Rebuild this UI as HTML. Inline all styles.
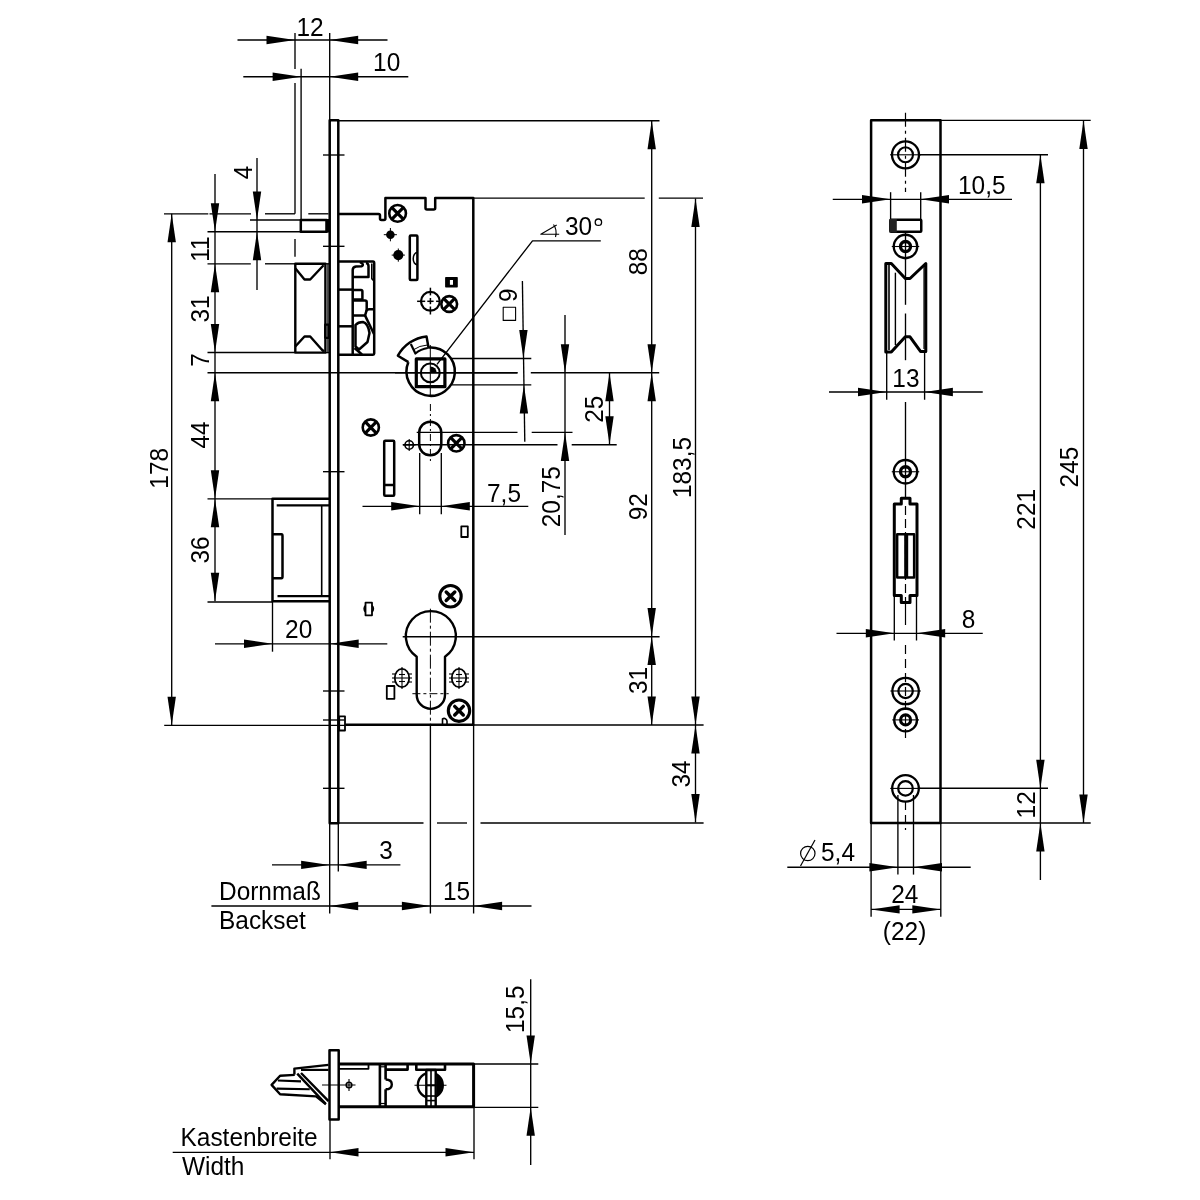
<!DOCTYPE html>
<html><head><meta charset="utf-8"><style>
html,body{margin:0;padding:0;background:#fff;width:1200px;height:1200px;overflow:hidden}
svg{display:block;will-change:transform}
</style></head><body>
<svg width="1200" height="1200" viewBox="0 0 1200 1200" font-family="Liberation Sans, sans-serif" stroke="#000" fill="#000" stroke-linecap="butt" stroke-linejoin="round">
<rect x="0" y="0" width="1200" height="1200" fill="#fff" stroke="none"/>
<line x1="237.5" y1="40" x2="387.5" y2="40" stroke-width="1.35"/>
<path d="M295,40 L266.5,35.8 L266.5,44.2 Z" stroke="none" fill="#000"/>
<path d="M329.7,40 L358.2,35.8 L358.2,44.2 Z" stroke="none" fill="#000"/>
<text transform="translate(310,35.5) scale(0.955,1)" x="0" y="0" font-size="25.6" text-anchor="middle" stroke="none">12</text>
<line x1="295" y1="33" x2="295" y2="69" stroke-width="1.35"/>
<line x1="243.3" y1="76.7" x2="408.3" y2="76.7" stroke-width="1.35"/>
<path d="M301.1,76.7 L272.6,72.5 L272.6,80.9 Z" stroke="none" fill="#000"/>
<path d="M329.7,76.7 L358.2,72.5 L358.2,80.9 Z" stroke="none" fill="#000"/>
<text transform="translate(386.7,71) scale(0.955,1)" x="0" y="0" font-size="25.6" text-anchor="middle" stroke="none">10</text>
<line x1="329.7" y1="33" x2="329.7" y2="120" stroke-width="1.35"/>
<line x1="301.1" y1="68.7" x2="301.1" y2="220" stroke-width="1.35"/>
<line x1="295" y1="83" x2="295" y2="213.8" stroke-width="1.35"/>
<rect x="329.7" y="120.3" width="8.6" height="703" stroke-width="2.5" fill="none"/>
<line x1="338.3" y1="120.7" x2="659.5" y2="120.7" stroke-width="1.35"/>
<line x1="323" y1="155" x2="344.5" y2="155" stroke-width="1.35"/>
<line x1="323" y1="246.3" x2="344.5" y2="246.3" stroke-width="1.35"/>
<line x1="323" y1="471.7" x2="344.5" y2="471.7" stroke-width="1.35"/>
<line x1="323" y1="691" x2="344.5" y2="691" stroke-width="1.35"/>
<line x1="323" y1="720" x2="344.5" y2="720" stroke-width="1.35"/>
<line x1="323" y1="788.3" x2="344.5" y2="788.3" stroke-width="1.35"/>
<rect x="339.2" y="716.3" width="5.8" height="14.2" stroke-width="1.8" fill="none"/>
<line x1="338.3" y1="823" x2="423.5" y2="823" stroke-width="1.35"/>
<line x1="437" y1="823" x2="467" y2="823" stroke-width="1.35"/>
<line x1="480.5" y1="823" x2="703.6" y2="823" stroke-width="1.35"/>
<line x1="329.7" y1="823" x2="329.7" y2="913.5" stroke-width="1.35"/>
<line x1="338.3" y1="823" x2="338.3" y2="871.5" stroke-width="1.35"/>
<rect x="300.8" y="220" width="25.9" height="11.7" stroke-width="2.5" fill="none"/>
<rect x="325.5" y="219" width="4" height="13.5" stroke="none" fill="#000"/>
<line x1="250" y1="220" x2="300.8" y2="220" stroke-width="1.35"/>
<line x1="207.5" y1="231.7" x2="300.8" y2="231.7" stroke-width="1.35"/>
<line x1="164" y1="213.8" x2="208.3" y2="213.8" stroke-width="1.35"/>
<line x1="209.5" y1="213.8" x2="251" y2="213.8" stroke-width="1.35"/>
<line x1="265" y1="213.8" x2="295" y2="213.8" stroke-width="1.35"/>
<line x1="308.3" y1="213.8" x2="328.5" y2="213.8" stroke-width="1.35"/>
<line x1="295" y1="239" x2="295" y2="256.7" stroke-width="1.35"/>
<line x1="207.5" y1="263.8" x2="250.8" y2="263.8" stroke-width="1.35"/>
<line x1="265" y1="263.8" x2="295" y2="263.8" stroke-width="1.35"/>
<path d="M295.3,263.8 L325.4,263.8 L325.4,352.6 L295.3,352.6 Z" stroke-width="2.4" fill="none" />
<line x1="327.9" y1="263.8" x2="327.9" y2="352.6" stroke-width="1.2"/>
<line x1="325.4" y1="263.8" x2="329.7" y2="263.8" stroke-width="1.4"/>
<line x1="325.4" y1="352.6" x2="329.7" y2="352.6" stroke-width="1.4"/>
<rect x="325.2" y="324.6" width="3.6" height="13.2" stroke-width="2.2" fill="none"/>
<path d="M295.3,268.3 L304.5,279.5 L310.2,279.5 L323.6,265.3" stroke-width="2.4" fill="none"/>
<path d="M295.3,346.5 L304.5,336.5 L310.2,336.5 L321.7,349.5 L324,351.5" stroke-width="2.4" fill="none"/>
<line x1="207.5" y1="352.5" x2="295" y2="352.5" stroke-width="1.35"/>
<line x1="207.5" y1="372.7" x2="517.5" y2="372.7" stroke-width="1.35"/>
<line x1="530.8" y1="372.7" x2="659.2" y2="372.7" stroke-width="1.35"/>
<line x1="215" y1="174" x2="215" y2="601.2" stroke-width="1.35"/>
<path d="M215,231.7 L210.8,203.2 L219.2,203.2 Z" stroke="none" fill="#000"/>
<path d="M215,263.8 L210.8,292.3 L219.2,292.3 Z" stroke="none" fill="#000"/>
<path d="M215,352.5 L210.8,324 L219.2,324 Z" stroke="none" fill="#000"/>
<path d="M215,372.7 L210.8,401.2 L219.2,401.2 Z" stroke="none" fill="#000"/>
<path d="M215,498.8 L210.8,470.3 L219.2,470.3 Z" stroke="none" fill="#000"/>
<path d="M215,498.8 L210.8,527.3 L219.2,527.3 Z" stroke="none" fill="#000"/>
<path d="M215,601.2 L210.8,572.7 L219.2,572.7 Z" stroke="none" fill="#000"/>
<text transform="translate(200,249) rotate(-90) scale(0.955,1)" x="0" y="9.09" font-size="25.6" text-anchor="middle" stroke="none">11</text>
<text transform="translate(200,309) rotate(-90) scale(0.955,1)" x="0" y="9.09" font-size="25.6" text-anchor="middle" stroke="none">31</text>
<text transform="translate(200,360) rotate(-90) scale(0.955,1)" x="0" y="9.09" font-size="25.6" text-anchor="middle" stroke="none">7</text>
<text transform="translate(200,435) rotate(-90) scale(0.955,1)" x="0" y="9.09" font-size="25.6" text-anchor="middle" stroke="none">44</text>
<text transform="translate(200,550) rotate(-90) scale(0.955,1)" x="0" y="9.09" font-size="25.6" text-anchor="middle" stroke="none">36</text>
<line x1="257" y1="158" x2="257" y2="290" stroke-width="1.35"/>
<path d="M257,220 L252.8,191.5 L261.2,191.5 Z" stroke="none" fill="#000"/>
<path d="M257,231.7 L252.8,260.2 L261.2,260.2 Z" stroke="none" fill="#000"/>
<text transform="translate(242.5,172.5) rotate(-90) scale(0.955,1)" x="0" y="9.09" font-size="25.6" text-anchor="middle" stroke="none">4</text>
<line x1="171.7" y1="213.8" x2="171.7" y2="725.3" stroke-width="1.35"/>
<path d="M171.7,213.8 L167.5,242.3 L175.9,242.3 Z" stroke="none" fill="#000"/>
<path d="M171.7,725.3 L167.5,696.8 L175.9,696.8 Z" stroke="none" fill="#000"/>
<text transform="translate(159.2,468.3) rotate(-90) scale(0.955,1)" x="0" y="9.09" font-size="25.6" text-anchor="middle" stroke="none">178</text>
<line x1="164.2" y1="725.3" x2="345.3" y2="725.3" stroke-width="1.35"/>
<line x1="207.5" y1="498.8" x2="272.5" y2="498.8" stroke-width="1.35"/>
<line x1="207.5" y1="602" x2="272.5" y2="602" stroke-width="1.35"/>
<path d="M329.7,498.8 L272.5,498.8 L272.5,601.2 L329.7,601.2" stroke-width="2.5" fill="none" />
<line x1="276.7" y1="505.3" x2="329.2" y2="505.3" stroke-width="2.25"/>
<line x1="277.5" y1="596.2" x2="329.2" y2="596.2" stroke-width="2.25"/>
<line x1="321.7" y1="505.3" x2="321.7" y2="596.2" stroke-width="1.6"/>
<path d="M272.5,534.2 L281.5,534.2 Q282.5,534.2 282.5,536 L282.5,576.5 Q282.5,578.3 281.5,578.3 L272.5,578.3" stroke-width="2.5" fill="none" />
<path d="M338.3,261.6 L373,261.6 Q374.2,261.6 374.2,263 L374.2,353.5 Q374.2,354.7 373,354.7 L338.3,354.7" stroke-width="2.5" fill="none" />
<line x1="338.3" y1="289.6" x2="352.6" y2="289.6" stroke-width="2.5"/>
<line x1="338.3" y1="326.3" x2="352.6" y2="326.3" stroke-width="2.5"/>
<path d="M352.7,354 L352.7,270 Q352.7,267 356,266.5 L361.5,266.3 Q363.5,265.5 362.5,263.8 L360,262" stroke-width="2.5" fill="none" />
<path d="M352.7,277 L368.5,277 L368.5,266 Q368.5,263.5 366,263" stroke-width="2.5" fill="none" />
<path d="M371.8,263.5 L371.8,278.6 L373.5,280.5" stroke-width="1.6" fill="none" />
<path d="M352.7,290 L361,290 Q362.4,290 362.4,291.5 L362.4,299.6 L352.7,299.6" stroke-width="2.5" fill="none" />
<path d="M352.7,300.5 L365,300.5 Q366.7,300.5 366.7,302 L366.7,309.5 Q366,313 365,315.4 L352.7,315.4" stroke-width="2.5" fill="none" />
<path d="M366.5,311 Q367,309.5 369,309.3 L374,309.2" stroke-width="2.5" fill="none" />
<path d="M365,315.4 L374,334" stroke-width="2.5" fill="none" />
<path d="M355.5,325 Q358,322 363,322 Q368,323 369.5,333 L367.5,342 L359,349.5 L355.5,346.5 Z" stroke-width="2.5" fill="none" />
<path d="M354.5,348 L362,354.5" stroke-width="2.5" fill="none" />
<path d="M338.3,214 L378.5,214 Q380,214 380,215.5 L380,218.5 Q380,220 381.5,220 L384,220 Q385.4,220 385.4,218.5 L385.4,198.1 L425.5,198.1 L425.5,208 Q425.5,209.5 427,209.5 L433.7,209.5 Q435.2,209.5 435.2,208 L435.2,198.1 L473.3,198.1 L473.3,724.7 L345.3,724.7" stroke-width="2.5" fill="none" />
<line x1="473.3" y1="198.1" x2="644.7" y2="198.1" stroke-width="1.35"/>
<line x1="658.8" y1="198.1" x2="703" y2="198.1" stroke-width="1.35"/>
<circle cx="397.6" cy="213.4" r="8.35" stroke-width="2.6" fill="none"/>
<path d="M392.42,208.22 L402.78,218.58 M392.42,218.58 L402.78,208.22" stroke-width="3.2" stroke-linecap="round" fill="none"/>
<circle cx="390.4" cy="234.7" r="4.3" stroke-width="0" fill="#000"/>
<line x1="383.8" y1="234.7" x2="396.9" y2="234.7" stroke-width="1.0"/>
<line x1="390.4" y1="228" x2="390.4" y2="241.3" stroke-width="1.0"/>
<circle cx="398.3" cy="255.1" r="5.1" stroke-width="0" fill="#000"/>
<line x1="391.7" y1="255.1" x2="404.9" y2="255.1" stroke-width="1.0"/>
<line x1="398.3" y1="248.5" x2="398.3" y2="261.7" stroke-width="1.0"/>
<rect x="409.8" y="235.5" width="7.6" height="44.4" rx="1" stroke-width="2.5" fill="none"/>
<path d="M417.2,252.6 A4,6.1 0 0 0 417.2,264.8" stroke-width="1.5" fill="none" />
<rect x="445.1" y="277" width="12.7" height="10.5" rx="0.8" stroke="none" fill="#000"/>
<rect x="449.9" y="280" width="3.1" height="4.8" stroke="none" fill="#fff"/>
<circle cx="430.4" cy="301.3" r="9.4" stroke-width="2.2" fill="none"/>
<line x1="417.1" y1="301.3" x2="425.2" y2="301.3" stroke-width="1.5"/>
<line x1="427.3" y1="301.3" x2="433.6" y2="301.3" stroke-width="1.5"/>
<line x1="436.1" y1="301.3" x2="439.8" y2="301.3" stroke-width="1.5"/>
<line x1="430.4" y1="287.7" x2="430.4" y2="295.4" stroke-width="1.5"/>
<line x1="430.4" y1="298" x2="430.4" y2="304.2" stroke-width="1.5"/>
<line x1="430.4" y1="306.5" x2="430.4" y2="314.5" stroke-width="1.5"/>
<circle cx="449.2" cy="304" r="7.9" stroke-width="2.6" fill="none"/>
<path d="M444.3,299.1 L454.1,308.9 M444.3,308.9 L454.1,299.1" stroke-width="3.2" stroke-linecap="round" fill="none"/>
<path d="M408.4,362.1 L397.9,355.7 A36.7,36.7 0 0 1 426.5,336.4 L428.5,347.5 A24.2,24.2 0 1 1 408.4,362.1" stroke-width="2.5" fill="none" />
<path d="M410.8,344 L415.4,353.5 A25,25 0 0 1 427.8,348" stroke-width="2.2" fill="none" />
<path d="M413,350 A28,28 0 0 1 427.5,345" stroke-width="1.0" fill="none" />
<rect x="416.3" y="358.9" width="28.6" height="27.8" stroke-width="3.2" fill="none"/>
<circle cx="430.3" cy="372.9" r="9.4" stroke-width="2.0" fill="none"/>
<path d="M430.3,372.9 L430.3,366.4 A6.5,6.5 0 0 1 436.8,372.9 Z" stroke-width="0" fill="#000" stroke="none"/>
<line x1="430.3" y1="345" x2="430.3" y2="397" stroke-width="1.0"/>
<line x1="395" y1="372.7" x2="517.5" y2="372.7" stroke-width="1.35"/>
<path d="M437,364.4 L532.5,240.8 L600.8,240.8" stroke-width="1.35" fill="none"/>
<text transform="translate(565,235.2) scale(0.955,1)" x="0" y="0" font-size="25.6" text-anchor="start" stroke="none">30</text>
<circle cx="598.4" cy="222.2" r="3.2" stroke-width="1.3" fill="none"/>
<path d="M556.7,225 L540.8,234.2 L559.2,234.2" stroke-width="1.1" fill="none"/>
<path d="M553.5,224.5 Q557.5,230 555.5,237" stroke-width="1.1" fill="none" />
<line x1="451.9" y1="358.5" x2="531.3" y2="358.5" stroke-width="1.35"/>
<line x1="451.9" y1="384.9" x2="531.3" y2="384.9" stroke-width="1.35"/>
<line x1="522.4" y1="281" x2="524.8" y2="441.7" stroke-width="1.35"/>
<path d="M523.4,358.5 L519.2,330 L527.6,330 Z" stroke="none" fill="#000"/>
<path d="M523.9,384.9 L519.7,413.4 L528.1,413.4 Z" stroke="none" fill="#000"/>
<text transform="translate(508,295.3) rotate(-90) scale(0.955,1)" x="0" y="9.09" font-size="25.6" text-anchor="middle" stroke="none">9</text>
<rect x="503.2" y="307.2" width="12.4" height="13.2" stroke-width="1.1" fill="none"/>
<rect x="419.2" y="421.7" width="22.1" height="33.6" rx="11" ry="11" stroke-width="2.5" fill="none"/>
<line x1="430.4" y1="404" x2="430.4" y2="461" stroke-width="1.0" stroke-dasharray="7,3,2,3"/>
<line x1="416.7" y1="432.4" x2="517.5" y2="432.4" stroke-width="1.35"/>
<line x1="531.7" y1="432.4" x2="572.5" y2="432.4" stroke-width="1.35"/>
<line x1="402.7" y1="444.7" x2="557.5" y2="444.7" stroke-width="1.35"/>
<line x1="571.7" y1="444.7" x2="616.7" y2="444.7" stroke-width="1.35"/>
<circle cx="409.2" cy="445" r="4.2" stroke-width="1.6" fill="none"/>
<line x1="403" y1="445" x2="415.5" y2="445" stroke-width="1.1"/>
<line x1="409.2" y1="439" x2="409.2" y2="451" stroke-width="1.1"/>
<circle cx="456.3" cy="443.3" r="8.2" stroke-width="2.6" fill="none"/>
<path d="M451.22,438.22 L461.38,448.38 M451.22,448.38 L461.38,438.22" stroke-width="3.2" stroke-linecap="round" fill="none"/>
<circle cx="370.8" cy="427.5" r="8.1" stroke-width="2.6" fill="none"/>
<path d="M365.78,422.48 L375.82,432.52 M365.78,432.52 L375.82,422.48" stroke-width="3.2" stroke-linecap="round" fill="none"/>
<rect x="384.2" y="440.8" width="10" height="55" rx="1" stroke-width="2.5" fill="none"/>
<line x1="384.2" y1="485" x2="394.2" y2="485" stroke-width="2.5"/>
<line x1="419.7" y1="453" x2="419.7" y2="514.2" stroke-width="1.35"/>
<line x1="441.3" y1="453" x2="441.3" y2="514.2" stroke-width="1.35"/>
<line x1="362.5" y1="506.3" x2="528.3" y2="506.3" stroke-width="1.35"/>
<path d="M419.7,506.3 L391.2,502.1 L391.2,510.5 Z" stroke="none" fill="#000"/>
<path d="M441.3,506.3 L469.8,502.1 L469.8,510.5 Z" stroke="none" fill="#000"/>
<text transform="translate(487,501.7) scale(0.955,1)" x="0" y="0" font-size="25.6" text-anchor="start" stroke="none">7,5</text>
<rect x="461.3" y="526.3" width="6.5" height="10.7" stroke-width="1.8" fill="none"/>
<circle cx="450.5" cy="596.25" r="10.7" stroke-width="3.1" fill="none"/>
<path d="M446.2,591.95 L454.8,600.55 M446.2,600.55 L454.8,591.95" stroke-width="3.4" stroke-linecap="round" fill="none"/>
<rect x="365.5" y="602.7" width="6.5" height="12.6" stroke-width="1.8" fill="none"/>
<path d="M365.5,605.5 A4.5,4.5 0 0 0 365.5,612" stroke-width="1.6" fill="none" />
<path d="M372,605.5 A4.5,4.5 0 0 1 372,612" stroke-width="1.6" fill="none" />
<path d="M416.7,656.7 A25,25 0 1 1 445,656.7 L445,694.7 A14.15,14.15 0 0 1 416.7,694.7 Z" stroke-width="2.4" fill="none" />
<line x1="402.7" y1="636.7" x2="659.6" y2="636.7" stroke-width="1.35"/>
<line x1="430.4" y1="608.7" x2="430.4" y2="724" stroke-width="1.0" stroke-dasharray="14,3,3,3"/>
<line x1="430.4" y1="724" x2="430.4" y2="913.5" stroke-width="1.35"/>
<line x1="412.4" y1="693.7" x2="448.7" y2="693.7" stroke-width="1.0" stroke-dasharray="8,3,3,3"/>
<ellipse cx="402" cy="678" rx="7.2" ry="9.2" stroke-width="1.8" fill="none"/>
<line x1="392" y1="678" x2="412" y2="678" stroke-width="1.1"/>
<line x1="402" y1="667" x2="402" y2="689" stroke-width="1.1"/>
<line x1="399" y1="674.5" x2="405" y2="674.5" stroke-width="1.1"/>
<line x1="399" y1="681.5" x2="405" y2="681.5" stroke-width="1.1"/>
<line x1="392" y1="674" x2="395" y2="674" stroke-width="1.1"/>
<line x1="392" y1="682" x2="395" y2="682" stroke-width="1.1"/>
<line x1="409" y1="674" x2="412" y2="674" stroke-width="1.1"/>
<line x1="409" y1="682" x2="412" y2="682" stroke-width="1.1"/>
<ellipse cx="459" cy="678" rx="7.2" ry="9.2" stroke-width="1.8" fill="none"/>
<line x1="449" y1="678" x2="469" y2="678" stroke-width="1.1"/>
<line x1="459" y1="667" x2="459" y2="689" stroke-width="1.1"/>
<line x1="456" y1="674.5" x2="462" y2="674.5" stroke-width="1.1"/>
<line x1="456" y1="681.5" x2="462" y2="681.5" stroke-width="1.1"/>
<line x1="449" y1="674" x2="452" y2="674" stroke-width="1.1"/>
<line x1="449" y1="682" x2="452" y2="682" stroke-width="1.1"/>
<line x1="466" y1="674" x2="469" y2="674" stroke-width="1.1"/>
<line x1="466" y1="682" x2="469" y2="682" stroke-width="1.1"/>
<rect x="386.8" y="686" width="7.6" height="12.8" stroke-width="1.8" fill="none"/>
<circle cx="459" cy="710.7" r="10.7" stroke-width="3.1" fill="none"/>
<path d="M454.7,706.4 L463.3,715 M454.7,715 L463.3,706.4" stroke-width="3.4" stroke-linecap="round" fill="none"/>
<path d="M442.5,724 L442.5,719 A2.8,2.8 0 0 1 447,721 L447,724" stroke-width="1.6" fill="none" />
<line x1="215" y1="643.8" x2="387.3" y2="643.8" stroke-width="1.35"/>
<path d="M272.5,643.8 L244,639.6 L244,648 Z" stroke="none" fill="#000"/>
<path d="M330.2,643.8 L358.7,639.6 L358.7,648 Z" stroke="none" fill="#000"/>
<line x1="272.5" y1="601" x2="272.5" y2="651.7" stroke-width="1.35"/>
<text transform="translate(298.7,637.5) scale(0.955,1)" x="0" y="0" font-size="25.6" text-anchor="middle" stroke="none">20</text>
<line x1="651.7" y1="120.7" x2="651.7" y2="725" stroke-width="1.35"/>
<path d="M651.7,120.7 L647.5,149.2 L655.9,149.2 Z" stroke="none" fill="#000"/>
<path d="M651.7,372.7 L647.5,344.2 L655.9,344.2 Z" stroke="none" fill="#000"/>
<path d="M651.7,372.7 L647.5,401.2 L655.9,401.2 Z" stroke="none" fill="#000"/>
<path d="M651.7,636.6 L647.5,608.1 L655.9,608.1 Z" stroke="none" fill="#000"/>
<path d="M651.7,636.6 L647.5,665.1 L655.9,665.1 Z" stroke="none" fill="#000"/>
<path d="M651.7,725 L647.5,696.5 L655.9,696.5 Z" stroke="none" fill="#000"/>
<text transform="translate(637.5,261.7) rotate(-90) scale(0.955,1)" x="0" y="9.09" font-size="25.6" text-anchor="middle" stroke="none">88</text>
<text transform="translate(637.5,506.7) rotate(-90) scale(0.955,1)" x="0" y="9.09" font-size="25.6" text-anchor="middle" stroke="none">92</text>
<text transform="translate(637.5,680.5) rotate(-90) scale(0.955,1)" x="0" y="9.09" font-size="25.6" text-anchor="middle" stroke="none">31</text>
<line x1="695.5" y1="198.5" x2="695.5" y2="822.6" stroke-width="1.35"/>
<path d="M695.5,198.5 L691.3,227 L699.7,227 Z" stroke="none" fill="#000"/>
<path d="M695.5,725 L691.3,696.5 L699.7,696.5 Z" stroke="none" fill="#000"/>
<path d="M695.5,725 L691.3,753.5 L699.7,753.5 Z" stroke="none" fill="#000"/>
<path d="M695.5,822.6 L691.3,794.1 L699.7,794.1 Z" stroke="none" fill="#000"/>
<text transform="translate(681.7,467.5) rotate(-90) scale(0.955,1)" x="0" y="9.09" font-size="25.6" text-anchor="middle" stroke="none">183,5</text>
<text transform="translate(681,774) rotate(-90) scale(0.955,1)" x="0" y="9.09" font-size="25.6" text-anchor="middle" stroke="none">34</text>
<line x1="473.3" y1="725" x2="703.6" y2="725" stroke-width="1.35"/>
<line x1="609.5" y1="372.7" x2="609.5" y2="444.7" stroke-width="1.35"/>
<path d="M609.5,372.7 L605.3,401.2 L613.7,401.2 Z" stroke="none" fill="#000"/>
<path d="M609.5,444.7 L605.3,416.2 L613.7,416.2 Z" stroke="none" fill="#000"/>
<text transform="translate(594.2,409.2) rotate(-90) scale(0.955,1)" x="0" y="9.09" font-size="25.6" text-anchor="middle" stroke="none">25</text>
<line x1="565" y1="315" x2="565" y2="535" stroke-width="1.35"/>
<path d="M565,372.7 L560.8,344.2 L569.2,344.2 Z" stroke="none" fill="#000"/>
<path d="M565,432.4 L560.8,460.9 L569.2,460.9 Z" stroke="none" fill="#000"/>
<text transform="translate(550.8,496.7) rotate(-90) scale(0.955,1)" x="0" y="9.09" font-size="25.6" text-anchor="middle" stroke="none">20,75</text>
<line x1="272" y1="864.9" x2="400.4" y2="864.9" stroke-width="1.35"/>
<path d="M329.6,864.9 L301.1,860.7 L301.1,869.1 Z" stroke="none" fill="#000"/>
<path d="M338.2,864.9 L366.7,860.7 L366.7,869.1 Z" stroke="none" fill="#000"/>
<text transform="translate(386,859) scale(0.955,1)" x="0" y="0" font-size="25.6" text-anchor="middle" stroke="none">3</text>
<line x1="211.4" y1="906" x2="531.5" y2="906" stroke-width="1.35"/>
<path d="M329.7,906 L358.2,901.8 L358.2,910.2 Z" stroke="none" fill="#000"/>
<path d="M430.4,906 L401.9,901.8 L401.9,910.2 Z" stroke="none" fill="#000"/>
<path d="M473.6,906 L502.1,901.8 L502.1,910.2 Z" stroke="none" fill="#000"/>
<text transform="translate(219,900) scale(0.955,1)" x="0" y="0" font-size="25.6" text-anchor="start" stroke="none">Dornmaß</text>
<text transform="translate(219,928.5) scale(0.955,1)" x="0" y="0" font-size="25.6" text-anchor="start" stroke="none">Backset</text>
<text transform="translate(456.5,900) scale(0.955,1)" x="0" y="0" font-size="25.6" text-anchor="middle" stroke="none">15</text>
<line x1="473.6" y1="724.7" x2="473.6" y2="913.5" stroke-width="1.35"/>
<rect x="329.5" y="1050.3" width="9.2" height="69.3" stroke-width="2.5" fill="none"/>
<path d="M338.9,1063.9 L473.6,1063.9 L473.6,1106.8 L338.9,1106.8" stroke-width="3.0" fill="none" />
<line x1="473.6" y1="1064" x2="538.3" y2="1064" stroke-width="1.35"/>
<line x1="475" y1="1107.3" x2="538.3" y2="1107.3" stroke-width="1.35"/>
<path d="M338.9,1068.8 L368.5,1068.8 L368.5,1064" stroke-width="1.8" fill="none" />
<line x1="379.9" y1="1064" x2="379.9" y2="1106" stroke-width="2.6"/>
<line x1="385.6" y1="1064" x2="385.6" y2="1079.5" stroke-width="2.6"/>
<line x1="385.6" y1="1089.3" x2="385.6" y2="1106" stroke-width="2.6"/>
<path d="M385.6,1079.5 Q391.8,1079.5 391.8,1084.4 Q391.8,1089.3 385.6,1089.3" stroke-width="2.4" fill="none" />
<line x1="380" y1="1066.8" x2="385.6" y2="1066.8" stroke-width="1.2"/>
<line x1="380" y1="1103.5" x2="385.6" y2="1103.5" stroke-width="1.2"/>
<path d="M385.6,1069.6 L407.6,1069.6 L407.6,1064" stroke-width="2.6" fill="none" />
<circle cx="430.3" cy="1085.3" r="12.5" stroke-width="2.4" fill="none"/>
<path d="M436.3,1074.6 A12.5,12.5 0 0 1 436.3,1096 Z" stroke-width="0" fill="#000" stroke="none"/>
<path d="M416.3,1064 L416.3,1069.8 L445,1069.8 L445,1064" stroke-width="2.6" fill="none" />
<rect x="426.3" y="1070" width="9.4" height="36.5" stroke-width="2.4" fill="#fff"/>
<line x1="426" y1="1085.3" x2="436" y2="1085.3" stroke-width="2.0"/>
<line x1="426" y1="1096" x2="436" y2="1096" stroke-width="1.6"/>
<line x1="426" y1="1100.6" x2="436" y2="1100.6" stroke-width="1.6"/>
<line x1="431" y1="1070" x2="431" y2="1106" stroke-width="1.6"/>
<line x1="414.5" y1="1085.3" x2="446.5" y2="1085.3" stroke-width="1.1"/>
<circle cx="349" cy="1085" r="2.8" stroke-width="1.6" fill="none"/>
<line x1="322" y1="1085" x2="355.5" y2="1085" stroke-width="1.1"/>
<line x1="349" y1="1079" x2="349" y2="1091" stroke-width="1.1"/>
<path d="M294.4,1074.5 L294.4,1068.6 L328.5,1064.9" stroke-width="2.4" fill="none" />
<line x1="301" y1="1069.9" x2="328.5" y2="1069.9" stroke-width="2.2"/>
<path d="M297.25,1073.6 L325.4,1103.6 M301,1073 L328.5,1101.1" stroke-width="2.4" fill="none" />
<path d="M294.75,1074.9 L280.1,1075.8 L271.6,1084.9 L280.1,1094.25 L316,1096.4 L326,1104.25" stroke-width="2.4" fill="none" />
<path d="M277.9,1080.5 L301,1081.4 M276.6,1088.6 L309.75,1089.25" stroke-width="2.2" fill="none" />
<line x1="172.7" y1="1152.3" x2="474" y2="1152.3" stroke-width="1.35"/>
<path d="M330,1152.3 L358.5,1148.1 L358.5,1156.5 Z" stroke="none" fill="#000"/>
<path d="M474,1152.3 L445.5,1148.1 L445.5,1156.5 Z" stroke="none" fill="#000"/>
<line x1="330" y1="1120" x2="330" y2="1159.3" stroke-width="1.35"/>
<line x1="474" y1="1106.7" x2="474" y2="1159.3" stroke-width="1.35"/>
<text transform="translate(180.5,1145.7) scale(0.955,1)" x="0" y="0" font-size="25.6" text-anchor="start" stroke="none">Kastenbreite</text>
<text transform="translate(182,1175) scale(0.955,1)" x="0" y="0" font-size="25.6" text-anchor="start" stroke="none">Width</text>
<line x1="530.7" y1="979.3" x2="530.7" y2="1165" stroke-width="1.35"/>
<path d="M530.7,1064 L526.5,1035.5 L534.9,1035.5 Z" stroke="none" fill="#000"/>
<path d="M530.7,1107.3 L526.5,1135.8 L534.9,1135.8 Z" stroke="none" fill="#000"/>
<text transform="translate(515,1009.2) rotate(-90) scale(0.955,1)" x="0" y="9.09" font-size="25.6" text-anchor="middle" stroke="none">15,5</text>
<rect x="871.1" y="120.3" width="69.4" height="702.6" stroke-width="2.5" fill="none"/>
<line x1="940.5" y1="120.4" x2="1090.7" y2="120.4" stroke-width="1.35"/>
<line x1="919" y1="154.7" x2="1048" y2="154.7" stroke-width="1.35"/>
<line x1="919" y1="788.2" x2="1048" y2="788.2" stroke-width="1.35"/>
<line x1="940.5" y1="823" x2="1090.7" y2="823" stroke-width="1.35"/>
<line x1="1083.5" y1="120.4" x2="1083.5" y2="823.1" stroke-width="1.35"/>
<path d="M1083.5,120.4 L1079.3,148.9 L1087.7,148.9 Z" stroke="none" fill="#000"/>
<path d="M1083.5,823.1 L1079.3,794.6 L1087.7,794.6 Z" stroke="none" fill="#000"/>
<text transform="translate(1069,467) rotate(-90) scale(0.955,1)" x="0" y="9.09" font-size="25.6" text-anchor="middle" stroke="none">245</text>
<line x1="1040.4" y1="154.7" x2="1040.4" y2="880" stroke-width="1.35"/>
<path d="M1040.4,154.7 L1036.2,183.2 L1044.6,183.2 Z" stroke="none" fill="#000"/>
<path d="M1040.4,788.2 L1036.2,759.7 L1044.6,759.7 Z" stroke="none" fill="#000"/>
<path d="M1040.4,823.1 L1036.2,851.6 L1044.6,851.6 Z" stroke="none" fill="#000"/>
<text transform="translate(1025.5,509.3) rotate(-90) scale(0.955,1)" x="0" y="9.09" font-size="25.6" text-anchor="middle" stroke="none">221</text>
<text transform="translate(1025.7,804.8) rotate(-90) scale(0.955,1)" x="0" y="9.09" font-size="25.6" text-anchor="middle" stroke="none">12</text>
<line x1="905.5" y1="112.7" x2="905.5" y2="192" stroke-width="1.2" stroke-dasharray="14,4,3,4"/>
<circle cx="905.5" cy="154.8" r="13.5" stroke-width="2.3" fill="none"/>
<circle cx="905.5" cy="154.8" r="7.5" stroke-width="2.1" fill="none"/>
<line x1="890" y1="154.8" x2="921" y2="154.8" stroke-width="1.1"/>
<circle cx="905.5" cy="246.5" r="11.75" stroke-width="2.3" fill="none"/>
<circle cx="905.5" cy="246.5" r="5" stroke-width="3.3" fill="none"/>
<line x1="891.75" y1="246.5" x2="919.25" y2="246.5" stroke-width="1.1"/>
<circle cx="905.5" cy="471.75" r="11.75" stroke-width="2.3" fill="none"/>
<circle cx="905.5" cy="471.75" r="5" stroke-width="3.3" fill="none"/>
<line x1="891.75" y1="471.75" x2="919.25" y2="471.75" stroke-width="1.1"/>
<circle cx="905.6" cy="691" r="13.2" stroke-width="2.3" fill="none"/>
<circle cx="905.6" cy="691" r="7.2" stroke-width="2.2" fill="none"/>
<line x1="890.4" y1="691" x2="920.8" y2="691" stroke-width="1.1"/>
<circle cx="905.6" cy="719.9" r="11.4" stroke-width="2.3" fill="none"/>
<circle cx="905.6" cy="719.9" r="5" stroke-width="3.1" fill="none"/>
<line x1="892.2" y1="719.9" x2="919" y2="719.9" stroke-width="1.1"/>
<circle cx="905.5" cy="788.4" r="13.3" stroke-width="2.3" fill="none"/>
<circle cx="905.5" cy="788.4" r="7.3" stroke-width="2.2" fill="none"/>
<line x1="890.2" y1="788.4" x2="920.8" y2="788.4" stroke-width="1.1"/>
<line x1="905.5" y1="232" x2="905.5" y2="304.8" stroke-width="1.35"/>
<line x1="905.5" y1="313.5" x2="905.5" y2="360.2" stroke-width="1.35"/>
<line x1="905.5" y1="402" x2="905.5" y2="498" stroke-width="1.35"/>
<line x1="905.5" y1="506" x2="905.5" y2="602" stroke-width="1.2" stroke-dasharray="9,4"/>
<line x1="905.5" y1="602" x2="905.5" y2="625" stroke-width="1.2"/>
<line x1="905.5" y1="645" x2="905.5" y2="740" stroke-width="1.2" stroke-dasharray="9,5"/>
<line x1="905.5" y1="802" x2="905.5" y2="830" stroke-width="1.2" stroke-dasharray="8,5"/>
<rect x="890.35" y="219.65" width="30.9" height="12.2" rx="0.8" stroke-width="2.5" fill="none"/>
<rect x="889.5" y="219" width="7.3" height="13.5" stroke="none" fill="#222"/>
<line x1="832.75" y1="199.3" x2="1012" y2="199.3" stroke-width="1.35"/>
<path d="M890.5,199.3 L862,195.1 L862,203.5 Z" stroke="none" fill="#000"/>
<path d="M920.5,199.3 L949,195.1 L949,203.5 Z" stroke="none" fill="#000"/>
<line x1="890.6" y1="192.2" x2="890.6" y2="219" stroke-width="1.35"/>
<line x1="920.7" y1="192.2" x2="920.7" y2="219" stroke-width="1.35"/>
<text transform="translate(958,193.5) scale(0.955,1)" x="0" y="0" font-size="25.6" text-anchor="start" stroke="none">10,5</text>
<path d="M885.8,352 L885.8,263.5 L891.3,263.5 L905.3,278.5 L910,278.5 L925.8,263.5 L925.8,351.4 L920.5,351.4 L910,336.8 L905.3,336.8 L891.3,352 Z" stroke-width="3.0" fill="none" />
<line x1="889" y1="265" x2="889" y2="350" stroke-width="1.6"/>
<line x1="895.4" y1="272.7" x2="895.4" y2="345" stroke-width="1.4"/>
<line x1="924" y1="266" x2="924" y2="349" stroke-width="1.2"/>
<line x1="829" y1="392" x2="982.75" y2="392" stroke-width="1.35"/>
<path d="M886.5,392 L858,387.8 L858,396.2 Z" stroke="none" fill="#000"/>
<path d="M924.4,392 L952.9,387.8 L952.9,396.2 Z" stroke="none" fill="#000"/>
<line x1="886.7" y1="352" x2="886.7" y2="399.75" stroke-width="1.35"/>
<line x1="924.6" y1="352" x2="924.6" y2="399.75" stroke-width="1.35"/>
<text transform="translate(905.9,387) scale(0.955,1)" x="0" y="0" font-size="25.6" text-anchor="middle" stroke="none">13</text>
<path d="M894.3,504 L901.3,504 L901.3,498.3 L910,498.3 L910,504 L917,504 L917,595.6 L910,595.6 L910,602.5 L901.3,602.5 L901.3,595.6 L894.3,595.6 Z" stroke-width="3.0" fill="none" />
<rect x="897.2" y="534.3" width="16.9" height="43.2" stroke-width="2.4" fill="none"/>
<rect x="904.2" y="535" width="4" height="42" stroke="none" fill="#000"/>
<line x1="836.5" y1="633.3" x2="982.75" y2="633.3" stroke-width="1.35"/>
<path d="M894.3,633.3 L865.8,629.1 L865.8,637.5 Z" stroke="none" fill="#000"/>
<path d="M916.7,633.3 L945.2,629.1 L945.2,637.5 Z" stroke="none" fill="#000"/>
<line x1="894.3" y1="595.6" x2="894.3" y2="640.5" stroke-width="1.35"/>
<line x1="916.5" y1="595.6" x2="916.5" y2="640.5" stroke-width="1.35"/>
<text transform="translate(968.5,627.8) scale(0.955,1)" x="0" y="0" font-size="25.6" text-anchor="middle" stroke="none">8</text>
<line x1="871.1" y1="823" x2="871.1" y2="916.75" stroke-width="1.35"/>
<line x1="940.8" y1="823" x2="940.8" y2="916.75" stroke-width="1.35"/>
<line x1="897.9" y1="795" x2="897.9" y2="874.6" stroke-width="1.35"/>
<line x1="913.5" y1="795" x2="913.5" y2="874.6" stroke-width="1.35"/>
<line x1="787.3" y1="867.25" x2="970.7" y2="867.25" stroke-width="1.35"/>
<path d="M897.9,867.25 L869.4,863.05 L869.4,871.45 Z" stroke="none" fill="#000"/>
<path d="M913.5,867.25 L942,863.05 L942,871.45 Z" stroke="none" fill="#000"/>
<line x1="871.1" y1="909.4" x2="940.8" y2="909.4" stroke-width="1.35"/>
<path d="M871.1,909.4 L899.6,905.2 L899.6,913.6 Z" stroke="none" fill="#000"/>
<path d="M940.8,909.4 L912.3,905.2 L912.3,913.6 Z" stroke="none" fill="#000"/>
<text transform="translate(904.8,903) scale(0.955,1)" x="0" y="0" font-size="25.6" text-anchor="middle" stroke="none">24</text>
<text transform="translate(904.6,939.7) scale(0.955,1)" x="0" y="0" font-size="25.6" text-anchor="middle" stroke="none">(22)</text>
<text transform="translate(821,861.2) scale(0.955,1)" x="0" y="0" font-size="25.6" text-anchor="start" stroke="none">5,4</text>
<circle cx="807.8" cy="853.5" r="7.2" stroke-width="1.2" fill="none"/>
<line x1="800.5" y1="866" x2="815" y2="840" stroke-width="1.2"/>
</svg></body></html>
